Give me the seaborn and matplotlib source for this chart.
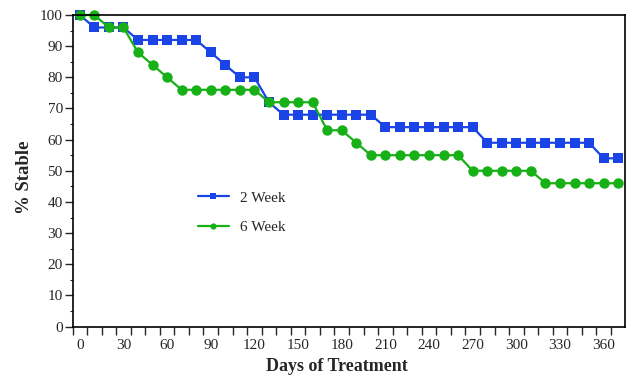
import numpy as np
import pandas as pd
import seaborn as sns
import matplotlib.pyplot as plt

# Data (percent stable every 10 days)
days = list(range(0, 380, 10))
week2 = [100, 96, 96, 96, 92, 92, 92, 92, 92, 88, 84, 80, 80, 72,
         68, 68, 68, 68, 68, 68, 68, 64, 64, 64, 64, 64, 64, 64,
         59, 59, 59, 59, 59, 59, 59, 59, 54, 54]
week6 = [100, 100, 96, 96, 88, 84, 80, 76, 76, 76, 76, 76, 76, 72,
         72, 72, 72, 63, 63, 59, 55, 55, 55, 55, 55, 55, 55, 50,
         50, 50, 50, 50, 46, 46, 46, 46, 46, 46]
groups = ['2 Week', '6 Week']
x_labels = list(range(0, 361, 30))
y_labels = list(range(0, 101, 10))

df = pd.DataFrame({
    'Day': days * 2,
    'Stable': week2 + week6,
    'Group': [groups[0]] * len(days) + [groups[1]] * len(days),
})

sns.set_style('ticks')
plt.rcParams['font.family'] = ['Liberation Serif', 'DejaVu Serif']

fig = plt.figure(figsize=(6.28, 3.76), dpi=100)
ax = fig.add_axes([0.1155, 0.1316, 0.8805, 0.8284])

palette = {'2 Week': '#1a44e6', '6 Week': '#17b017'}
sns.lineplot(data=df, x='Day', y='Stable', hue='Group', style='Group',
             hue_order=groups, style_order=groups, palette=palette,
             markers={'2 Week': 's', '6 Week': 'o'}, dashes=False,
             markersize=7.5, markeredgewidth=0, linewidth=1.6, ax=ax)
for line in ax.lines:
    line.set_clip_on(False)

ax.set_xlim(-5, 375)
ax.set_ylim(0, 100)
ax.set_xticks(x_labels)
ax.set_xticklabels([str(v) for v in x_labels])
ax.set_xticks(np.arange(-5, 370, 10), minor=True)
ax.tick_params(axis='x', which='major', length=0, pad=9, labelsize=11)
ax.tick_params(axis='x', which='minor', length=6, width=1, direction='out')
ax.set_yticks(y_labels)
ax.set_yticks(np.arange(5, 100, 10), minor=True)
ax.tick_params(axis='y', which='major', length=6, width=1, pad=1, labelsize=11)
ax.tick_params(axis='y', which='minor', length=2.5, width=0.8)

for s in ax.spines.values():
    s.set_linewidth(1.2)
    s.set_color('black')

ax.set_xlabel('Days of Treatment', fontsize=13, fontweight='bold')
ax.set_ylabel('% Stable', fontsize=13.5, fontweight='bold')
ax.xaxis.set_label_coords(0.478, -0.127)
ax.xaxis.label.set_va('center')
ax.yaxis.set_label_coords(-0.086, 0.48)
ax.yaxis.label.set_va('center')

ax.legend(loc='upper left', bbox_to_anchor=(0.227, 0.435), frameon=False,
          fontsize=11, handlelength=2.0, handletextpad=0.75,
          labelspacing=1.05, borderpad=0, borderaxespad=0, markerscale=0.6)

fig.savefig('out.png', dpi=100)
